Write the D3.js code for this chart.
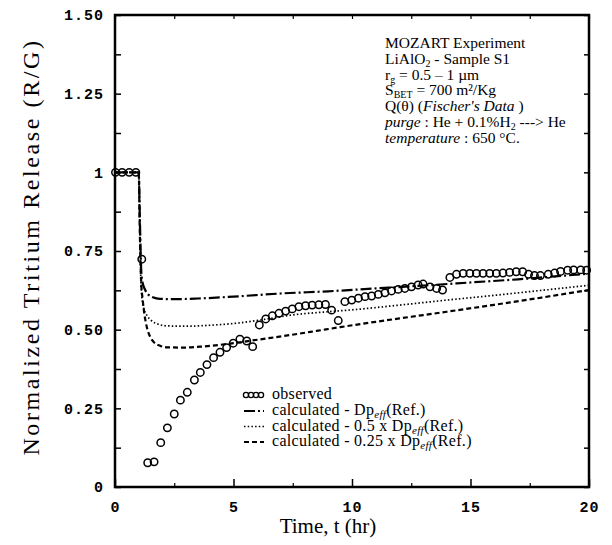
<!DOCTYPE html>
<html><head><meta charset="utf-8">
<script src="https://cdn.jsdelivr.net/npm/d3@7"></script>
<style>body{margin:0;background:#fff}svg{display:block}</style></head>
<body>
<script>
const xTicks = [0, 5, 10, 15, 20];
const xTickLabels = ["0", "5", "10", "15", "20"];
const yTicks = [0, 0.25, 0.5, 0.75, 1, 1.25, 1.5];
const yTickLabels = ["0", "0.25", "0.50", "0.75", "1", "1.25", "1.50"];

const obsT = [0.02,0.3,0.6,0.88,1.13,1.38,1.65,1.93,2.21,2.5,2.76,3.05,3.35,3.6,3.88,4.16,4.43,4.71,4.99,5.27,5.56,5.81,6.09,6.36,6.64,6.92,7.2,7.48,7.76,8.04,8.32,8.6,8.88,9.14,9.42,9.7,9.99,10.27,10.55,10.83,11.11,11.39,11.67,11.95,12.23,12.51,12.79,13.0,13.29,13.57,13.82,14.13,14.41,14.69,14.97,15.25,15.53,15.81,16.09,16.37,16.65,16.93,17.2,17.45,17.7,17.95,18.28,18.55,18.8,19.1,19.35,19.65,19.9];
const obsV = [1,1,1,1,0.724,0.077,0.080,0.141,0.188,0.232,0.276,0.301,0.340,0.364,0.389,0.411,0.428,0.443,0.457,0.470,0.464,0.446,0.515,0.534,0.544,0.552,0.559,0.566,0.573,0.576,0.578,0.579,0.58,0.562,0.529,0.589,0.594,0.600,0.605,0.607,0.612,0.617,0.623,0.628,0.631,0.636,0.642,0.645,0.636,0.631,0.626,0.666,0.676,0.679,0.679,0.679,0.679,0.679,0.679,0.68,0.682,0.684,0.684,0.676,0.672,0.672,0.676,0.680,0.685,0.689,0.690,0.690,0.689];

const calc1T = [0,1.0,1.05,1.1,1.15,1.25,1.4,1.6,1.9,2.5,3.5,5,7,9,11,13,15,17,19,20];
const calc1V = [1,1,0.85,0.70,0.655,0.63,0.612,0.603,0.598,0.597,0.599,0.605,0.615,0.622,0.631,0.640,0.650,0.660,0.672,0.678];

const calc05T = [0,1.0,1.05,1.1,1.2,1.35,1.5,1.8,2.2,3,4,5.3,6.5,7.4,9,10,12,14,16,18,20];
const calc05V = [1,1,0.8,0.64,0.573,0.545,0.531,0.518,0.512,0.511,0.514,0.522,0.535,0.546,0.557,0.563,0.578,0.594,0.609,0.625,0.641];

const calc025T = [0,1,1.05,1.1,1.17,1.25,1.34,1.48,1.62,1.9,2.2,2.9,3.6,5,6.1,7.4,8.5,9.5,11,12.5,14,16,18,20];
const calc025V = [1,1,0.8,0.66,0.594,0.545,0.509,0.478,0.462,0.449,0.444,0.443,0.446,0.457,0.469,0.483,0.496,0.508,0.525,0.541,0.557,0.579,0.602,0.626];

const W = 612, H = 545;
const L = 115, R = 589, T = 15, B = 487;
const serif = "'Liberation Serif', 'Times New Roman', serif";
const mono = "'Liberation Mono', 'Courier New', monospace";

const svg = d3.select("body").append("svg").attr("width", W).attr("height", H)
  .style("background", "#fff");

const x = d3.scaleLinear().domain([0, 20]).range([L, R]);
const y = d3.scaleLinear().domain([0, 1.5]).range([B, T]);

const yMinor = d3.range(0, 1.5001, 0.125);
const xMinor = d3.range(0, 20.001, 2.5);

// left axis
const gl = svg.append("g").attr("transform", `translate(${L},0)`)
  .call(d3.axisLeft(y).tickValues(yMinor).tickSizeInner(-6).tickSizeOuter(0).tickPadding(11)
    .tickFormat(d => { const i = yTicks.findIndex(v => Math.abs(v - d) < 1e-6); return i >= 0 ? yTickLabels[i] : ""; }));
gl.select(".domain").remove();
gl.selectAll("text").attr("font-family", mono).attr("font-weight", "bold").attr("font-size", 15)
  .attr("letter-spacing", 1).attr("fill", "#000");
gl.selectAll("line").attr("stroke", "#000").attr("stroke-width", 1.5);

// right axis
const gr = svg.append("g").attr("transform", `translate(${R},0)`)
  .call(d3.axisRight(y).tickValues(yMinor).tickSizeInner(-5).tickSizeOuter(0).tickFormat(""));
gr.select(".domain").remove();
gr.selectAll("line").attr("stroke", "#000").attr("stroke-width", 1.5);

// bottom axis
const gb = svg.append("g").attr("transform", `translate(0,${B})`)
  .call(d3.axisBottom(x).tickValues(xTicks).tickSizeInner(-8).tickSizeOuter(0).tickPadding(14)
    .tickFormat((d, i) => xTickLabels[i]));
gb.select(".domain").remove();
gb.selectAll("text").attr("font-family", mono).attr("font-weight", "bold").attr("font-size", 15)
  .attr("letter-spacing", 1).attr("fill", "#000");
gb.selectAll("line").attr("stroke", "#000").attr("stroke-width", 1.5);
const gbm = svg.append("g").attr("transform", `translate(0,${B})`)
  .call(d3.axisBottom(x).tickValues(xMinor.filter(v => v % 5 !== 0)).tickSizeInner(-4).tickSizeOuter(0).tickFormat(""));
gbm.select(".domain").remove();
gbm.selectAll("line").attr("stroke", "#000").attr("stroke-width", 1.2);

// top axis
const gt = svg.append("g").attr("transform", `translate(0,${T})`)
  .call(d3.axisTop(x).tickValues(xMinor).tickSizeInner(-4).tickSizeOuter(0).tickFormat(""));
gt.select(".domain").remove();
gt.selectAll("line").attr("stroke", "#000").attr("stroke-width", 1.2);

// frame
svg.append("rect").attr("x", L).attr("y", T).attr("width", R - L).attr("height", B - T)
  .attr("fill", "none").attr("stroke", "#000").attr("stroke-width", 2.5);

// axis titles
svg.append("text").attr("x", 328).attr("y", 533).attr("text-anchor", "middle")
  .attr("font-family", serif).attr("font-size", 21).text("Time, t (hr)");
svg.append("text").attr("transform", "translate(39,247) rotate(-90)").attr("text-anchor", "middle")
  .attr("font-family", serif).attr("font-size", 24).attr("letter-spacing", 2.6)
  .text("Normalized Tritium Release (R/G)");

// curves
const line = d3.line().x(d => x(d[0])).y(d => y(d[1])).curve(d3.curveMonotoneX);
const series = [
  {t: calc1T, v: calc1V, dash: "11,3,2,3", w: 2.2},
  {t: calc05T, v: calc05V, dash: "1.5,2.2", w: 1.7},
  {t: calc025T, v: calc025V, dash: "5,3", w: 2.2}
];
series.forEach(s => {
  svg.append("path").datum(d3.zip(s.t, s.v)).attr("d", line)
    .attr("fill", "none").attr("stroke", "#000").attr("stroke-width", s.w)
    .attr("stroke-dasharray", s.dash);
});

// observed
svg.append("g").selectAll("circle").data(d3.zip(obsT, obsV)).join("circle")
  .attr("cx", d => x(d[0])).attr("cy", d => y(d[1])).attr("r", 3.7)
  .attr("fill", "none").attr("stroke", "#000").attr("stroke-width", 1.5);

// annotation
const ann = svg.append("g").attr("font-family", serif).attr("font-size", 15.5).attr("fill", "#000");
function addLine(yy, parts) {
  const t = ann.append("text").attr("x", 385).attr("y", yy);
  parts.forEach(p => {
    const ts = t.append("tspan").text(p.s);
    if (p.sub) ts.attr("font-size", 10).attr("dy", 3);
    if (p.up) ts.attr("dy", -3);
    if (p.it) ts.attr("font-style", "italic");
  });
}
addLine(48, [{s: "MOZART Experiment"}]);
addLine(64, [{s: "LiAlO"}, {s: "2", sub: 1}, {s: " - Sample S1", up: 1}]);
addLine(80, [{s: "r"}, {s: "g", sub: 1}, {s: " = 0.5 – 1 µm", up: 1}]);
addLine(95, [{s: "S"}, {s: "BET", sub: 1}, {s: " = 700 m²/Kg", up: 1}]);
addLine(111, [{s: "Q(θ) ("}, {s: "Fischer's  Data", it: 1}, {s: " )"}]);
addLine(127, [{s: "purge", it: 1}, {s: " :  He + 0.1%H"}, {s: "2", sub: 1}, {s: " ---> He", up: 1}]);
addLine(143, [{s: "temperature", it: 1}, {s: " :  650 °C."}]);

// legend
const leg = svg.append("g").attr("font-family", serif).attr("font-size", 16).attr("letter-spacing", 0.3).attr("fill", "#000");
const legRows = [
  {y: 395, type: "obs", label: [{s: "observed"}]},
  {y: 411, type: 0, label: [{s: "calculated - Dp"}, {s: "eff", sub: 1, it: 1}, {s: "(Ref.)", up: 1}]},
  {y: 426.5, type: 1, label: [{s: "calculated - 0.5 x Dp"}, {s: "eff", sub: 1, it: 1}, {s: "(Ref.)", up: 1}]},
  {y: 442, type: 2, label: [{s: "calculated - 0.25 x Dp"}, {s: "eff", sub: 1, it: 1}, {s: "(Ref.)", up: 1}]}
];
legRows.forEach(r => {
  if (r.type === "obs") {
    [246, 251, 256, 261].forEach(cx => leg.append("circle").attr("cx", cx).attr("cy", r.y).attr("r", 2.6)
      .attr("fill", "none").attr("stroke", "#000").attr("stroke-width", 1.3));
  } else {
    const s = series[r.type];
    leg.append("line").attr("x1", 244).attr("x2", 264).attr("y1", r.y).attr("y2", r.y)
      .attr("stroke", "#000").attr("stroke-width", s.w).attr("stroke-dasharray", s.dash);
  }
  const t = leg.append("text").attr("x", 272).attr("y", r.y + 4);
  r.label.forEach(p => {
    const ts = t.append("tspan").text(p.s);
    if (p.sub) ts.attr("font-size", 11).attr("dy", 3);
    if (p.up) ts.attr("dy", -3);
    if (p.it) ts.attr("font-style", "italic");
  });
});
</script>
</body></html>
